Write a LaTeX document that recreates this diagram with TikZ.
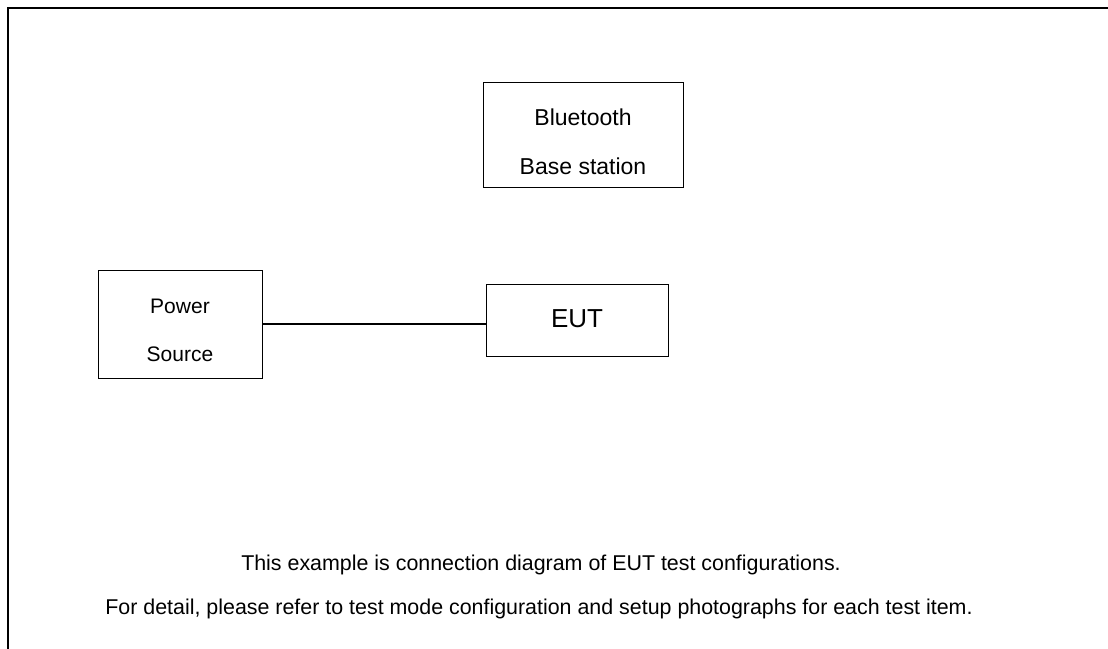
\documentclass[tikz,border=0pt]{standalone}
\usepackage{fontspec}
\setmainfont{Liberation Sans}
\begin{document}
\begin{tikzpicture}[x=1pt,y=-1pt,
  box/.style={draw=black,line width=1pt,minimum width=#1,inner sep=0pt},
  lbl/.style={anchor=base,inner sep=0pt},
  frameline/.style={line width=2.8pt,line cap=rect}]
\useasboundingbox (0,0) rectangle (1108,648);
\coordinate (ftr) at (1112,8);
\coordinate (ftl) at (8,8);
\coordinate (fbl) at (8,652);
\draw[frameline] (ftr) -- (ftl) -- (fbl);

\node[box=200pt,minimum height=105pt] (bt) at (583,134.5) {};
\node[lbl,font=\fontsize{23}{27}\selectfont] (bt1) at (583,125.7) {Bluetooth};
\node[lbl,font=\fontsize{23}{27}\selectfont] (bt2) at (583,174) {Base station};

\node[box=164pt,minimum height=108pt] (pw) at (180,324) {};
\node[lbl,font=\fontsize{21}{25}\selectfont] (pw1) at (180,313) {Power};
\node[lbl,font=\fontsize{21}{25}\selectfont] (pw2) at (180,361) {Source};

\node[box=182pt,minimum height=72pt] (eut) at (577,320) {};
\node[lbl,font=\fontsize{26}{30}\selectfont] (eut1) at (577,327.3) {EUT};

\draw[line width=1.5pt] (pw.east) -- (pw.east -| eut.west);

\node[lbl,font=\fontsize{21.4}{25}\selectfont] (n1) at (541,570) {This example is connection diagram of EUT test configurations.};
\node[lbl,font=\fontsize{21.4}{25}\selectfont] (n2) at (539,614) {For detail, please refer to test mode configuration and setup photographs for each test item.};
\end{tikzpicture}
\end{document}
